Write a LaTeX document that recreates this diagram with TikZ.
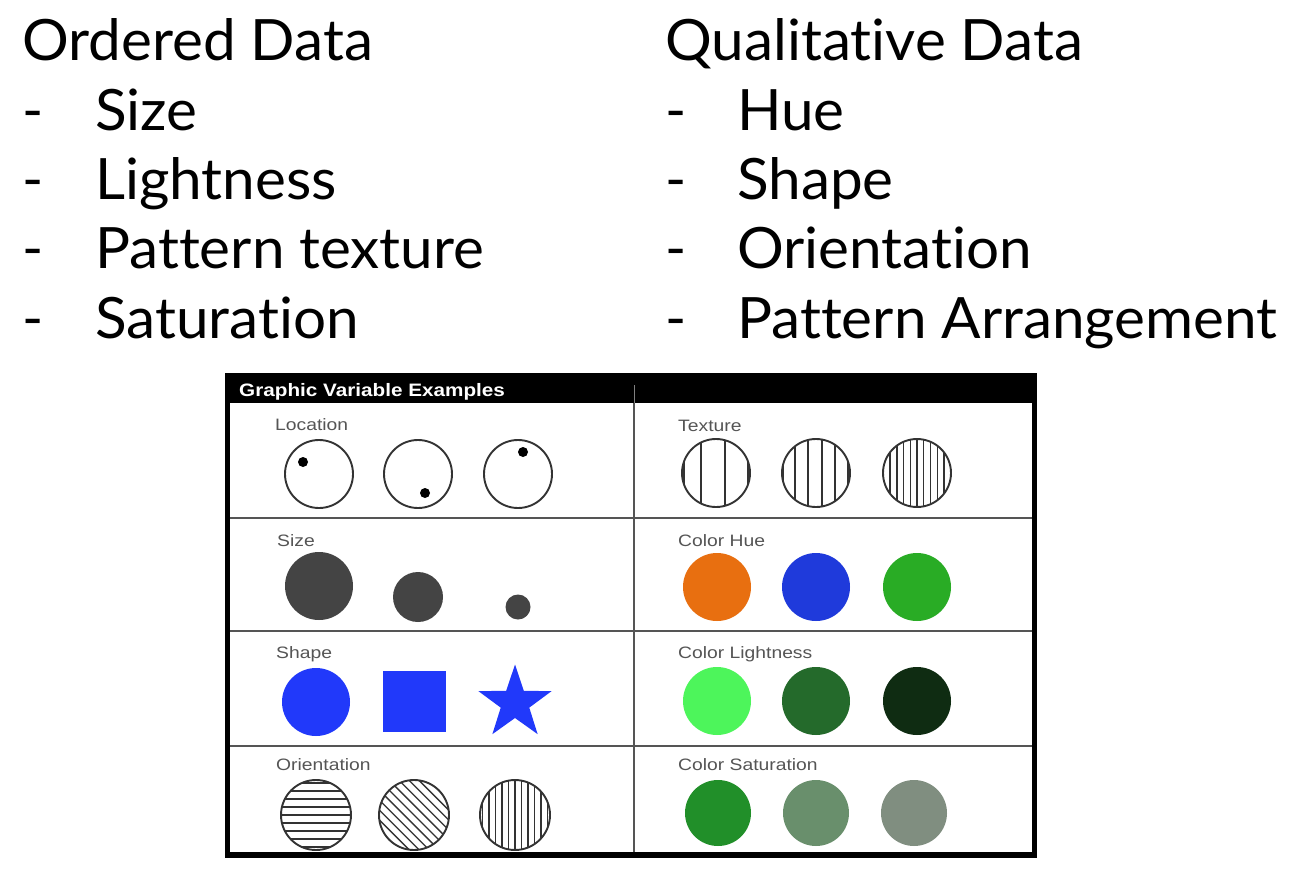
\documentclass[tikz,border=0pt]{standalone}
\usepackage{fontspec}
\usepackage{graphicx}
\setmainfont{Lato}[Ligatures={NoCommon,NoRare,NoContextual}, RawFeature={-liga;-clig;-dlig}]
\newfontfamily\arialfont{Liberation Sans}
\definecolor{labgray}{HTML}{555555}
\definecolor{sizegray}{HTML}{444444}
\definecolor{hueorange}{HTML}{E86F10}
\definecolor{hueblue}{HTML}{1F3ADB}
\definecolor{huegreen}{HTML}{29AC25}
\definecolor{shapeblue}{HTML}{2139FA}
\definecolor{lgreen}{HTML}{4DF55B}
\definecolor{mgreen}{HTML}{246A2B}
\definecolor{dgreen}{HTML}{0F2C12}
\definecolor{satA}{HTML}{218F29}
\definecolor{satB}{HTML}{698F6C}
\definecolor{satC}{HTML}{808E80}
\definecolor{linegray}{HTML}{333333}
\newcommand{\bigt}[1]{\scalebox{1.025}[1]{#1}}
\newcommand{\labt}[1]{\scalebox{1.17}[1]{#1}}
\tikzset{
  bigtext/.style={anchor=base west, inner sep=0, font=\fontsize{57}{69}\selectfont},
  lab/.style={anchor=base west, inner sep=0, text=labgray, font=\arialfont\fontsize{16.5}{18}\selectfont},
  ring/.style={draw=linegray, line width=1.9pt},
  hatch/.style={draw=linegray, line width=1.3pt},
  grid/.style={draw=labgray, line width=2pt},
}
\begin{document}
\begin{tikzpicture}[x=1pt,y=-1pt]
\useasboundingbox (0,0) rectangle (1298,870);
\fill[white] (0,0) rectangle (1298,870);

% top lists
\node[bigtext] (od) at (22,60) {\bigt{Ordered Data}};
\node[bigtext] (d1) at (22,130) {-};
\node[bigtext] (o1) at (95,130) {\bigt{Size}};
\node[bigtext] (d2) at (22,199) {-};
\node[bigtext] (o2) at (95,199) {\bigt{Lightness}};
\node[bigtext] (d3) at (22,268) {-};
\node[bigtext] (o3) at (95,268) {\bigt{Pattern texture}};
\node[bigtext] (d4) at (22,338) {-};
\node[bigtext] (o4) at (95,338) {\bigt{Saturation}};

\node[bigtext] (qd) at (665,60) {\bigt{Qualitative Data}};
\node[bigtext] (e1) at (665,130) {-};
\node[bigtext] (q1) at (737,130) {\bigt{Hue}};
\node[bigtext] (e2) at (665,199) {-};
\node[bigtext] (q2) at (737,199) {\bigt{Shape}};
\node[bigtext] (e3) at (665,268) {-};
\node[bigtext] (q3) at (737,268) {\bigt{Orientation}};
\node[bigtext] (e4) at (665,338) {-};
\node[bigtext] (q4) at (737,338) {\bigt{Pattern Arrangement}};

% frame
\fill[black] (225,373) rectangle (1037,403);
\fill[black] (225,373) rectangle (230,858);
\fill[black] (1032,373) rectangle (1037,858);
\fill[black] (225,852) rectangle (1037,858);
\draw[grid] (230,518) -- (1032,518);
\draw[grid] (230,631) -- (1032,631);
\draw[grid] (230,746) -- (1032,746);
\draw[grid] (634,403) -- (634,852);
\draw[draw=gray, line width=1pt] (634,385) -- (634,403);
\node[anchor=base west, inner sep=0, text=white, font=\arialfont\bfseries\fontsize{18}{20}\selectfont] (title) at (239,396) {\scalebox{1.15}[1]{Graphic Variable Examples}};

% labels
\node[lab] (lloc) at (275,430) {\labt{Location}};
\node[lab] (lsize) at (277,546) {\labt{Size}};
\node[lab] (lshape) at (276,658) {\labt{Shape}};
\node[lab] (lori) at (276,770) {\labt{Orientation}};
\node[lab] (ltex) at (678,431) {\labt{Texture}};
\node[lab] (lhue) at (678,546) {\labt{Color Hue}};
\node[lab] (llight) at (678,658) {\labt{Color Lightness}};
\node[lab] (lsat) at (678,770) {\labt{Color Saturation}};

% location
\draw[ring] (319,474) circle (34);
\draw[ring] (418,474) circle (34);
\draw[ring] (518,474) circle (34);
\fill[black] (303,462) circle (5);
\fill[black] (425,493) circle (5);
\fill[black] (523,452) circle (5);

% texture
\begin{scope}
  \clip (716,473) circle (34);
  \foreach \o in {-32,-15,9,32} \draw[hatch] (716+\o,430) -- (716+\o,520);
\end{scope}
\draw[ring] (716,473) circle (34);
\begin{scope}
  \clip (816,473) circle (34);
  \foreach \o in {-33,-21,-8,6,19,32} \draw[hatch] (816+\o,430) -- (816+\o,520);
\end{scope}
\draw[ring] (816,473) circle (34);
\begin{scope}
  \clip (917,473) circle (34);
  \foreach \k in {0,...,10} \draw[hatch] (917-33.6+6.72*\k,430) -- (917-33.6+6.72*\k,520);
\end{scope}
\draw[ring] (917,473) circle (34);

% size
\fill[sizegray] (319,586) circle (34);
\fill[sizegray] (418,597) circle (25);
\fill[sizegray] (518,607) circle (12.5);

% hue
\fill[hueorange] (717,587) circle (34);
\fill[hueblue] (816,587) circle (34);
\fill[huegreen] (917,587) circle (34);

% shape
\fill[shapeblue] (316,702) circle (34);
\fill[shapeblue] (383,671) rectangle (446,732);
\begin{scope}[shift={(515,703)}]
  \fill[shapeblue] (-90:38.5) -- (-54:15) -- (-18:38.5) -- (18:15) -- (54:38.5)
    -- (90:15) -- (126:38.5) -- (162:15) -- (198:38.5) -- (234:15) -- cycle;
\end{scope}

% lightness
\fill[lgreen] (717,701) circle (34);
\fill[mgreen] (816,701) circle (34);
\fill[dgreen] (917,701) circle (34);

% orientation
\begin{scope}
  \clip (316,815) circle (35);
  \foreach \k in {-5,...,5} \draw[hatch] (270,815+8*\k) -- (360,815+8*\k);
\end{scope}
\draw[ring] (316,815) circle (35);
\begin{scope}
  \clip (414,815) circle (35);
  \foreach \k in {-7,...,7} \draw[hatch] (414-50+9.9*\k,815-50) -- (414+50+9.9*\k,815+50);
\end{scope}
\draw[ring] (414,815) circle (35);
\begin{scope}
  \clip (515,815) circle (35);
  \foreach \k in {-6,...,6} \draw[hatch] (515+6.5*\k,770) -- (515+6.5*\k,860);
\end{scope}
\draw[ring] (515,815) circle (35);

% saturation
\fill[satA] (718,813) circle (33);
\fill[satB] (816,813) circle (33);
\fill[satC] (914,813) circle (33);
\end{tikzpicture}
\end{document}
